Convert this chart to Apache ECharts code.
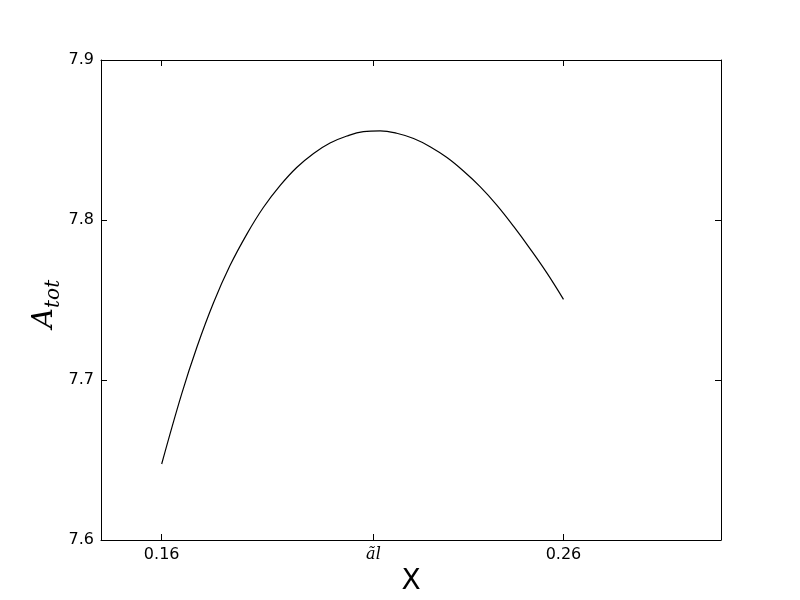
<!DOCTYPE html>
<html lang="en">
<head>
    <meta charset="UTF-8">
    <title>A_tot vs X</title>
    <script src="https://cdn.jsdelivr.net/npm/echarts@6/dist/echarts.min.js"></script>
    <style>
        * {
            margin: 0;
            padding: 0;
        }
        html,body{
            height: 100%;
            background: #fff;
        }
    </style>
</head>
<body>
<div id="main" style="width: 800px;height: 600px"></div>
<script>
    // curve
    var xVals = [0.1600, 0.1650, 0.1688, 0.1729, 0.1770, 0.1812, 0.1853, 0.1895, 0.1936, 0.1978,
                 0.2019, 0.2061, 0.2102, 0.2144, 0.2185, 0.2227, 0.2268, 0.2310, 0.2351, 0.2393,
                 0.2434, 0.2476, 0.2517, 0.2559, 0.2600];
    var aTot = [7.6475, 7.6915, 7.7208, 7.7483, 7.7715, 7.7912, 7.8078, 7.8216, 7.8328, 7.8416,
                7.8481, 7.8525, 7.8552, 7.8557, 7.8542, 7.8509, 7.8458, 7.8390, 7.8306, 7.8207,
                7.8093, 7.7960, 7.7820, 7.7668, 7.7504];
    // x ticks: two numbers and the peak position
    var xTicks = [0.16, 0.2127, 0.26];
    var xTickLabels = ['0.16', '{m|ãl}', '0.26'];

    var pts = [];
    for (var i = 0; i < xVals.length; i++) {
        pts.push([xVals[i], aTot[i]]);
    }

    var tickStyle = {show: true, inside: true, length: 6, lineStyle: {color: '#000', width: 1}};
    var lineStyle = {show: true, onZero: false, lineStyle: {color: '#000', width: 1}};

    var myChart = echarts.init(document.getElementById('main'));
    var option = {
        animation: false,
        backgroundColor: '#fff',
        grid: {left: 101, right: 79, top: 60, bottom: 60, containLabel: false, outerBoundsMode: 'none'},
        xAxis: [{
            type: 'value',
            min: 0.1449,
            max: 0.2992,
            name: 'X',
            nameLocation: 'middle',
            nameGap: 28,
            nameMoveOverlap: false,
            nameTextStyle: {fontFamily: 'DejaVu Sans', fontSize: 28, color: '#000'},
            axisLine: lineStyle,
            axisTick: Object.assign({customValues: xTicks}, tickStyle),
            splitLine: {show: false},
            axisLabel: {
                customValues: xTicks,
                margin: 7,
                fontFamily: 'DejaVu Sans',
                fontSize: 16,
                color: '#000',
                formatter: function (v) {
                    for (var k = 0; k < xTicks.length; k++) {
                        if (Math.abs(v - xTicks[k]) < 1e-6) return xTickLabels[k];
                    }
                    return '';
                },
                rich: {
                    m: {fontFamily: 'DejaVu Serif', fontStyle: 'italic', fontSize: 16, color: '#000'}
                }
            }
        }, {
            type: 'value',
            position: 'top',
            min: 0.1449,
            max: 0.2992,
            axisLine: lineStyle,
            axisTick: Object.assign({customValues: xTicks}, tickStyle),
            axisLabel: {show: false},
            splitLine: {show: false}
        }],
        yAxis: [{
            type: 'value',
            min: 7.6,
            max: 7.9,
            interval: 0.1,
            name: '{a|A}{s|tot}',
            nameLocation: 'middle',
            nameGap: 37,
            nameMoveOverlap: false,
            nameTextStyle: {
                color: '#000',
                padding: [0, 8, 0, 0],
                rich: {
                    a: {fontFamily: 'DejaVu Serif', fontStyle: 'italic', fontSize: 28, color: '#000'},
                    s: {fontFamily: 'DejaVu Serif', fontStyle: 'italic', fontSize: 20, color: '#000', padding: [18, 0, 0, 0]}
                }
            },
            axisLine: lineStyle,
            axisTick: tickStyle,
            splitLine: {show: false},
            axisLabel: {
                margin: 7,
                fontFamily: 'DejaVu Sans',
                fontSize: 16,
                color: '#000',
                formatter: function (v) {
                    return v.toFixed(1);
                }
            }
        }, {
            type: 'value',
            position: 'right',
            min: 7.6,
            max: 7.9,
            interval: 0.1,
            axisLine: lineStyle,
            axisTick: tickStyle,
            axisLabel: {show: false},
            splitLine: {show: false}
        }],
        series: [{
            type: 'line',
            data: pts,
            smooth: 0.4,
            symbol: 'none',
            lineStyle: {color: '#000', width: 1.2},
            xAxisIndex: 0,
            yAxisIndex: 0
        }]
    };
    myChart.setOption(option);
</script>
</body>
</html>
